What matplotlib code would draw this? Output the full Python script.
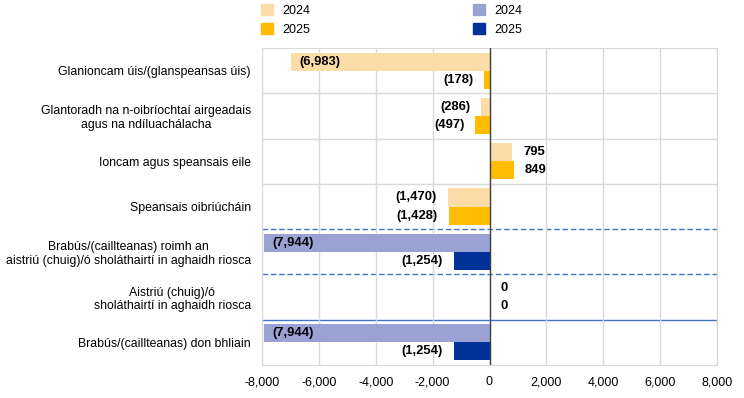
import matplotlib.pyplot as plt
from matplotlib.patches import Patch

# data
categories = [
    "Glanioncam úis/(glanspeansas úis)",
    "Glantoradh na n-oibríochtaí airgeadais\nagus na ndíluachálacha",
    "Ioncam agus speansais eile",
    "Speansais oibriúcháin",
    "Brabús/(caillteanas) roimh an\naistriú (chuig)/ó sholáthairtí in aghaidh riosca",
    "Aistriú (chuig)/ó\nsholáthairtí in aghaidh riosca",
    "Brabús/(caillteanas) don bhliain",
]
vals_2024 = [-6983, -286, 795, -1470, -7944, 0, -7944]
vals_2025 = [-178, -497, 849, -1428, -1254, 0, -1254]
group = ["o", "o", "o", "o", "b", "b", "b"]   # colour group per category

pal = {"o": ("#FDDDA7", "#FFBC00"), "b": ("#99A2D2", "#003299")}

plt.rcParams['font.family'] = ['Liberation Sans', 'DejaVu Sans']

fig = plt.figure(figsize=(7.44, 3.98), dpi=100)
ax = fig.add_axes([262/744, 1 - 365/398, (717-262)/744, (365-48)/398])

h = 0.4
ys = list(range(len(categories)))
c24 = [pal[g][0] for g in group]
c25 = [pal[g][1] for g in group]
ax.barh([y - h/2 for y in ys], vals_2024, height=h, color=c24, zorder=2)
ax.barh([y + h/2 for y in ys], vals_2025, height=h, color=c25, zorder=2)

def fmt(v):
    if v < 0:
        return "({:,})".format(-v)
    return "{:,}".format(v)

# data labels
for vals, off in ((vals_2024, -h/2), (vals_2025, h/2)):
    for y, v in zip(ys, vals):
        if v <= -5000:
            # long bars: label inside the bar end
            ax.annotate(fmt(v), (v, y + off), xytext=(6, 0), textcoords='offset points',
                        ha='left', va='center', fontsize=9.4, fontweight='bold', zorder=3)
        elif v < 0:
            ax.annotate(fmt(v), (v, y + off), xytext=(-8, 0), textcoords='offset points',
                        ha='right', va='center', fontsize=9.4, fontweight='bold', zorder=3)
        else:
            ax.annotate(fmt(v), (v, y + off), xytext=(8, 0), textcoords='offset points',
                        ha='left', va='center', fontsize=9.4, fontweight='bold', zorder=3)

ax.set_xlim(-8000, 8000)
ax.set_ylim(len(categories) - 0.5, -0.5)
ax.set_xticks(range(-8000, 8001, 2000))
ax.set_xticklabels(["{:,}".format(t) for t in range(-8000, 8001, 2000)])
ax.set_yticks(ys)
ax.set_yticklabels(categories, multialignment='center')
ax.tick_params(axis='both', length=0, labelsize=9)
ax.tick_params(axis='y', pad=8, labelsize=8.8)
ax.tick_params(axis='x', pad=8)

ax.grid(axis='x', color='#D9D9D9', lw=1, zorder=0)
for y in (0.5, 1.5, 2.5):
    ax.axhline(y, color='#D9D9D9', lw=1, zorder=0)
for y in (3.5, 4.5):
    ax.axhline(y, color='#4472C4', lw=1, ls=(0, (4, 2)), zorder=1)
ax.axhline(5.5, color='#4472C4', lw=1, zorder=1)
ax.axvline(0, color='#404040', lw=1, zorder=3)
for s in ax.spines.values():
    s.set_color('#D9D9D9')

# legends
leg_kw = dict(loc='upper left', frameon=False, fontsize=9,
              handlelength=0.95, handleheight=0.95, handletextpad=0.75, labelspacing=0.5,
              borderaxespad=0, borderpad=0.1)
fig.legend(handles=[Patch(color=pal["o"][0]), Patch(color=pal["o"][1])],
           labels=["2024", "2025"], bbox_to_anchor=(260/744, 1 - 3/398), **leg_kw)
fig.legend(handles=[Patch(color=pal["b"][0]), Patch(color=pal["b"][1])],
           labels=["2024", "2025"], bbox_to_anchor=(472/744, 1 - 3/398), **leg_kw)

fig.savefig("out.png", dpi=100)
